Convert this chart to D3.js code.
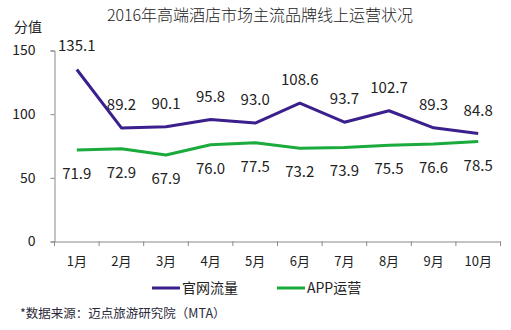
<!DOCTYPE html>
<html><head><meta charset="utf-8">
<script src="https://cdn.jsdelivr.net/npm/d3@7"></script>
<style>
body{margin:0;background:#fff;}
text{font-family:"Noto Sans CJK SC","Noto Sans",sans-serif;}
</style></head>
<body><svg id="c" width="511" height="330"></svg>
<script>
const months = ["1月","2月","3月","4月","5月","6月","7月","8月","9月","10月"];
const webValues = [135.1, 89.2, 90.1, 95.8, 93.0, 108.6, 93.7, 102.7, 89.3, 84.8];
const appValues = [71.9, 72.9, 67.9, 76.0, 77.5, 73.2, 73.9, 75.5, 76.6, 78.5];
const yTicks = [0, 50, 100, 150];
const seriesNames = ["官网流量", "APP运营"];
const colors = ["#3b1f8c", "#1aab3c"];

const svg = d3.select("#c");
const x = d3.scaleBand().domain(months).range([54.5, 500.5]);
const y = d3.scaleLinear().domain([0, 150]).range([241.5, 50.5]);

svg.append("text").attr("x", 260).attr("y", 21).attr("text-anchor", "middle")
  .attr("font-size", 16).attr("font-weight", 300).attr("fill", "#222").text("2016年高端酒店市场主流品牌线上运营状况");
svg.append("text").attr("x", 14).attr("y", 32).attr("font-size", 14).attr("fill", "#222").text("分值");

// y axis
const ya = svg.append("g").attr("transform", "translate(54.5,0)")
  .call(d3.axisLeft(y).tickValues(yTicks).tickSize(4).tickPadding(15));
ya.select(".domain").attr("stroke", "#888");
ya.selectAll(".tick line").attr("stroke", "#888");
ya.selectAll(".tick text").attr("font-size", 14).attr("fill", "#222").attr("font-family", "'Noto Sans',sans-serif");

// x axis
const xa = svg.append("g").attr("transform", "translate(0,241.5)")
  .call(d3.axisBottom(x).tickSize(0).tickPadding(15));
xa.select(".domain").attr("stroke", "#888");
xa.selectAll(".tick text").attr("font-size", 13).attr("fill", "#222");
const bounds = months.map(m => x(m)).concat([x.range()[1]]);
svg.append("g").selectAll("line").data(bounds).join("line")
  .attr("x1", d => d).attr("x2", d => d).attr("y1", 241.5).attr("y2", 246)
  .attr("stroke", "#888");

const cx = m => x(m) + x.bandwidth() / 2;
const line = d3.line().x((d, i) => cx(months[i])).y(d => y(d));

[webValues, appValues].forEach((vals, k) => {
  svg.append("path").datum(vals).attr("d", line).attr("fill", "none")
    .attr("stroke", colors[k]).attr("stroke-width", 3).attr("stroke-linejoin", "round");
  svg.append("g").selectAll("text").data(vals).join("text")
    .attr("x", (d, i) => cx(months[i]))
    .attr("y", d => k === 0 ? y(d) - 18 : y(d) + 29)
    .attr("text-anchor", "middle").attr("font-size", 15).attr("fill", "#222")
    .attr("font-family", "'Noto Sans',sans-serif")
    .text(d => d.toFixed(1));
});

// legend
const lg = [[152, 182], [277, 307]];
seriesNames.forEach((n, k) => {
  svg.append("line").attr("x1", lg[k][0]).attr("x2", lg[k][0] + 28).attr("y1", 288).attr("y2", 288)
    .attr("stroke", colors[k]).attr("stroke-width", 3);
  svg.append("text").attr("x", lg[k][1]).attr("y", 293).attr("font-size", 14).attr("fill", "#222").text(n);
});

svg.append("text").attr("x", 20).attr("y", 318).attr("font-size", 12.5).attr("fill", "#2a2a3a")
  .text("*数据来源：迈点旅游研究院（MTA）");
</script></body></html>
